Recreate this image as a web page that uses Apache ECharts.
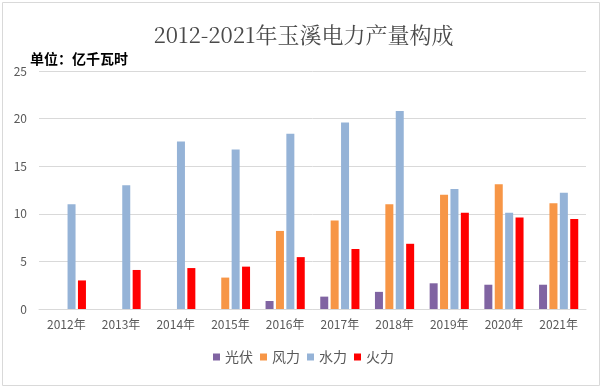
<!DOCTYPE html>
<html><head><meta charset="utf-8">
<script src="https://cdn.jsdelivr.net/npm/echarts@6/dist/echarts.min.js"></script>
<style>html,body{margin:0;padding:0;background:#fff}#c{width:607px;height:390px}</style>
</head><body><div id="c"></div>
<script>
var categories = ['2012年','2013年','2014年','2015年','2016年','2017年','2018年','2019年','2020年','2021年'];
var solar = [null, null, null, null, 0.84, 1.3, 1.8, 2.7, 2.55, 2.55];
var wind  = [null, null, null, 3.3, 8.2, 9.3, 11.0, 12.0, 13.1, 11.1];
var hydro = [11.0, 13.0, 17.6, 16.75, 18.4, 19.6, 20.8, 12.6, 10.1, 12.2];
var thermal = [3.0, 4.1, 4.3, 4.45, 5.45, 6.3, 6.85, 10.1, 9.6, 9.45];
var yTicks = [0, 5, 10, 15, 20, 25];

var chart = echarts.init(document.getElementById('c'));
var lab = {color:'#595959', fontSize:12, fontFamily:'"Noto Sans CJK SC", sans-serif'};
function s(name, data, color){
  return {name:name, type:'bar', data:data, barWidth:8, barGap:'30%', itemStyle:{color:color}};
}
chart.setOption({
  animation:false,
  title:{text:'2012-2021年玉溪电力产量构成', left:'center', top:19,
    textStyle:{fontFamily:'"Noto Serif CJK SC","Liberation Serif",serif', fontSize:22, fontWeight:'normal', color:'#4a4a4a'}},
  graphic:[
    {type:'rect', shape:{x:2.5,y:2.5,width:597,height:383}, style:{fill:'none', stroke:'#d9d9d9', lineWidth:1}, silent:true},
    {type:'text', left:30, top:52, style:{text:'单位：亿千瓦时', font:'bold 14px "Noto Sans CJK SC", sans-serif', fill:'#000'}}
  ],
  legend:{bottom:21, itemWidth:7, itemHeight:7, itemGap:7, icon:'rect',
    textStyle:{color:'#595959', fontSize:14, fontFamily:'"Noto Sans CJK SC", sans-serif'},
    data:['光伏','风力','水力','火力']},
  grid:{left:39, right:21, top:71, bottom:81},
  xAxis:{type:'category', data:categories,
    axisLine:{lineStyle:{color:'#d9d9d9'}}, axisTick:{show:false},
    axisLabel:Object.assign({margin:9}, lab)},
  yAxis:{type:'value', min:yTicks[0], max:yTicks[yTicks.length-1], interval:5,
    axisLabel:Object.assign({margin:12}, lab),
    splitLine:{lineStyle:{color:'#d9d9d9'}}, axisLine:{show:false}, axisTick:{show:false}},
  series:[s('光伏', solar, '#8064A2'), s('风力', wind, '#F79646'), s('水力', hydro, '#95B3D7'), s('火力', thermal, '#FF0000')]
});
</script></body></html>
